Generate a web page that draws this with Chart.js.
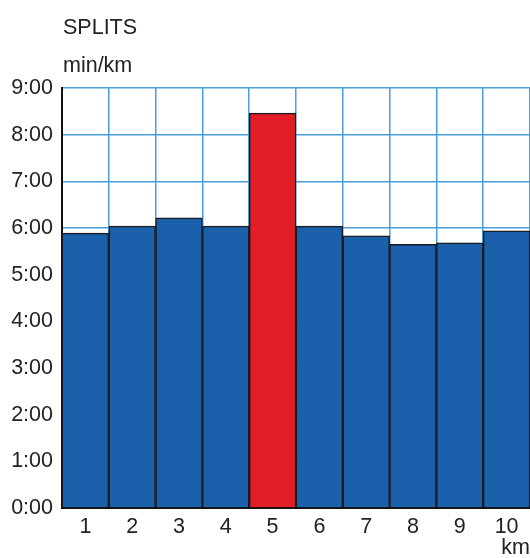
<!DOCTYPE html>
<html>
<head>
<meta charset="utf-8">
<script src="https://cdn.jsdelivr.net/npm/chart.js@4"></script>
<style>
  html, body { margin: 0; padding: 0; background: #fff; }
  #wrap { width: 530px; height: 558px; }
</style>
</head>
<body>
<div id="wrap"><canvas id="splits-chart"></canvas></div>
<script>
const kms = ['1', '2', '3', '4', '5', '6', '7', '8', '9', '10']
// pace per km, in minutes (decimal)
const pace = [5.89, 6.04, 6.22, 6.04, 8.46, 6.04, 5.83, 5.65, 5.68, 5.94]
const slowestKm = '5'

const blue = '#1b60aa'
const red = '#e21d26'
const gridBlue = '#4a9fd8'
const ink = '#222222'
const fontFamily = '"Liberation Sans", Arial, Helvetica, sans-serif'
const fontSize = 21.5

function fmtPace(v) {
    const m = Math.floor(v)
    const s = Math.round((v - m) * 60)
    return m + ':' + String(s).padStart(2, '0')
}

const labelsPlugin = {
    id: 'labels',
    afterDraw(chart) {
        const ctx = chart.ctx
        const area = chart.chartArea
        ctx.save()
        ctx.fillStyle = ink
        ctx.font = fontSize + 'px ' + fontFamily
        ctx.textAlign = 'left'
        ctx.textBaseline = 'alphabetic'
        ctx.fillText('SPLITS', area.left + 1, 34)
        ctx.fillText('min/km', area.left + 1, 72)
        ctx.textAlign = 'right'
        ctx.fillText('km', area.right, 554)
        ctx.restore()
    }
}

new Chart(document.getElementById('splits-chart').getContext('2d'), {
    type: 'bar',
    data: {
        labels: kms,
        datasets: [{
            data: pace,
            backgroundColor: kms.map(k => k === slowestKm ? red : blue),
            borderColor: '#1a1a22',
            borderWidth: 1.5,
            categoryPercentage: 1,
            barPercentage: 1
        }]
    },
    options: {
        responsive: true,
        maintainAspectRatio: false,
        animation: false,
        layout: { padding: { top: 88, left: 0, right: 0, bottom: 0 } },
        plugins: {
            legend: { display: false },
            tooltip: { enabled: false }
        },
        scales: {
            x: {
                afterFit(scale) { scale.height = 50 },
                grid: { color: gridBlue, lineWidth: 1.5, drawTicks: false, offset: true },
                border: { display: true, color: '#111', width: 2 },
                ticks: { color: ink, font: { family: fontFamily, size: fontSize }, padding: 6 }
            },
            y: {
                min: 0,
                max: 9,
                afterFit(scale) { scale.width = 62 },
                grid: { color: gridBlue, lineWidth: 1.5, drawTicks: false },
                border: { display: true, color: '#111', width: 2 },
                ticks: {
                    stepSize: 1,
                    color: ink,
                    font: { family: fontFamily, size: fontSize },
                    padding: 9,
                    callback: v => fmtPace(v)
                }
            }
        }
    },
    plugins: [labelsPlugin]
})
</script>
</body>
</html>
